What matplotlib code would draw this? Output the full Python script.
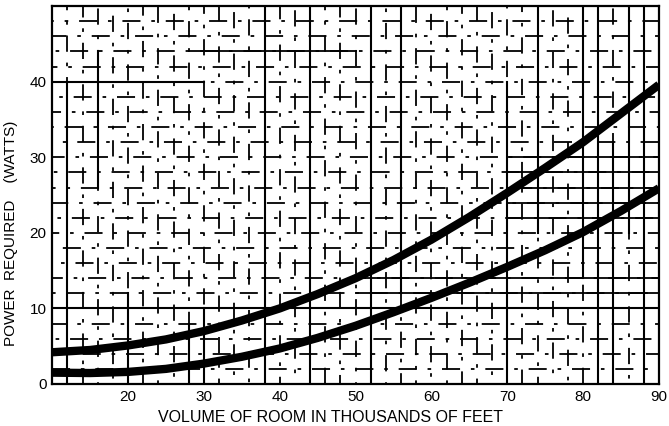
import matplotlib
matplotlib.use("Agg")
import matplotlib.pyplot as plt
import numpy as np

# Room volume (thousands of cubic feet) and power required (watts)
volume = [10, 15, 20, 25, 30, 35, 40, 45, 50, 55, 60, 65, 70, 75, 80, 85, 90]
power_upper = [4.2, 4.5, 5.1, 5.9, 7.0, 8.4, 10.0, 11.9, 14.0, 16.4, 19.1,
               22.1, 25.3, 28.6, 32.0, 35.8, 39.6]
power_lower = [1.5, 1.45, 1.6, 2.0, 2.7, 3.6, 4.7, 6.1, 7.7, 9.5, 11.4,
               13.4, 15.5, 17.7, 20.1, 22.9, 25.9]

x_ticks = [20, 30, 40, 50, 60, 70, 80, 90]
y_ticks = [0, 10, 20, 30, 40]

plt.rcParams['font.family'] = ['Liberation Sans', 'DejaVu Sans']

fig = plt.figure(figsize=(6.69, 4.26), dpi=100)
ax = fig.add_axes([0.078, 0.0986, 0.907, 0.887])
ax.set_xlim(10, 90)
ax.set_ylim(0, 50)

# broken ruling every 2 units
for i, gx in enumerate(np.arange(12, 90, 2)):
    ax.axvline(gx, color='black', lw=1.3, ls=(i * 4 % 17, (9, 6, 2, 6)), zorder=1)
for i, gy in enumerate(np.arange(2, 50, 2)):
    ax.axhline(gy, color='black', lw=1.3, ls=(i * 7 % 19, (10, 6, 2, 6)), zorder=1)

# heavier solid rulings
ax.axhline(10, color='black', lw=1.5, zorder=2)
ax.plot([10, 30], [40, 40], color='black', lw=1.5, zorder=2)
ax.plot([28, 50], [44, 44], color='black', lw=1.3, zorder=2)
for gy in [22, 24, 26, 28, 30]:
    ax.plot([70, 90], [gy, gy], color='black', lw=1.3, zorder=2)
ax.plot([50, 90], [12, 12], color='black', lw=1.3, zorder=2)
ax.plot([50, 90], [14, 14], color='black', lw=1.3, zorder=2)
for gx, y0, y1 in [(20, 0, 12), (28, 0, 8), (30, 0, 10), (38, 0, 50),
                   (12, 0, 40), (44, 0, 50), (52, 0, 50), (56, 12, 50),
                   (70, 0, 40), (74, 20, 50), (80, 14, 50), (82, 0, 50),
                   (84, 0, 32), (86, 20, 50), (88, 0, 50), (16, 26, 44)]:
    ax.plot([gx, gx], [y0, y1], color='black', lw=1.5, zorder=2)

# power curves
ax.plot(volume, power_upper, color='black', lw=6, solid_joinstyle='round',
        solid_capstyle='butt', zorder=3)
ax.plot(volume, power_lower, color='black', lw=6, solid_joinstyle='round',
        solid_capstyle='butt', zorder=3)

for s in ax.spines.values():
    s.set_linewidth(1.6)

ax.set_xticks(x_ticks)
ax.set_yticks(y_ticks)
ax.tick_params(length=0, labelsize=11, pad=4)
ax.set_xlabel('VOLUME OF ROOM IN THOUSANDS OF FEET', fontsize=11.5)
ax.xaxis.set_label_coords(0.458, -0.068)
ax.set_ylabel('POWER  REQUIRED    (WATTS)', fontsize=11)
ax.yaxis.set_label_coords(-0.056, 0.40)

fig.savefig('out.png', dpi=100)
